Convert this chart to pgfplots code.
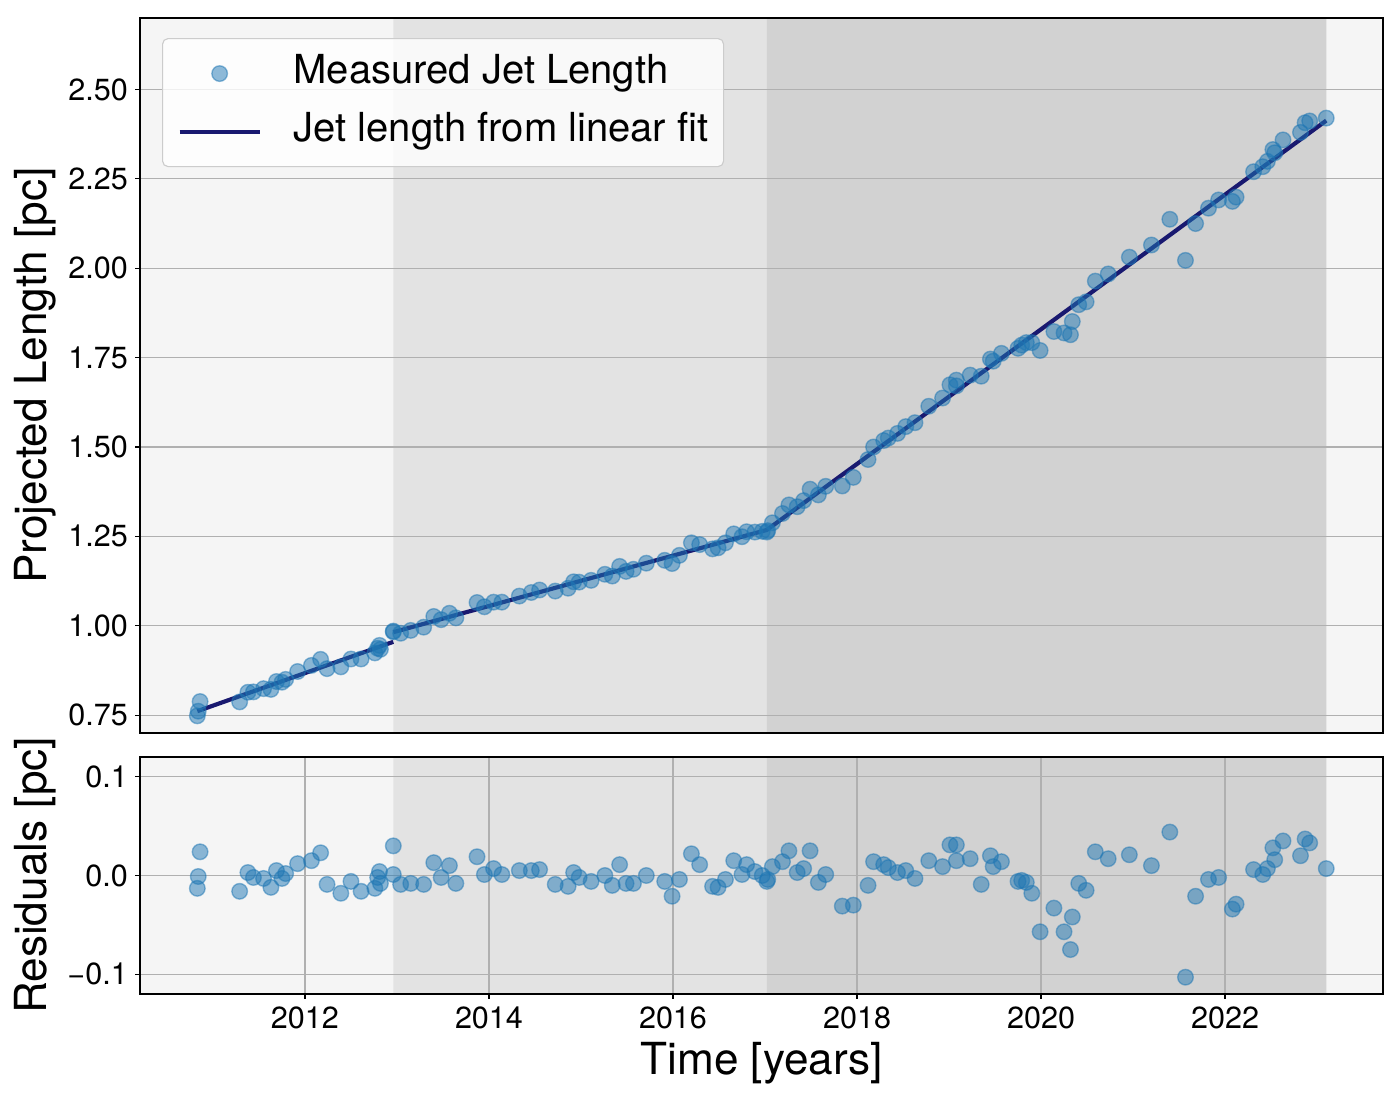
\documentclass[border=0pt]{standalone}
\usepackage{fontspec}
\setmainfont{TeX Gyre Heros}
\usepackage{pgfplots}
\usepackage{pgfplotstable}
\pgfplotsset{compat=1.18}
\definecolor{ptblue}{HTML}{1F77B4}
\definecolor{fitblue}{HTML}{191970}
\definecolor{bgA}{HTML}{F5F5F5}
\definecolor{bgB}{HTML}{E3E3E3}
\definecolor{bgC}{HTML}{D2D2D2}
\definecolor{gridc}{HTML}{B0B0B0}
\definecolor{legc}{HTML}{CCCCCC}

\pgfplotstableread{
x len res
2010.83 0.748 -0.013
2010.84 0.761 -0.001
2010.86 0.788 0.024
2011.29 0.787 -0.016
2011.38 0.814 0.003
2011.44 0.815 -0.002
2011.55 0.824 -0.003
2011.63 0.822 -0.012
2011.69 0.844 0.005
2011.75 0.842 -0.003
2011.79 0.850 0.002
2011.92 0.872 0.012
2012.07 0.889 0.015
2012.17 0.906 0.023
2012.24 0.880 -0.009
2012.39 0.885 -0.018
2012.50 0.907 -0.006
2012.61 0.907 -0.016
2012.76 0.924 -0.013
2012.79 0.937 -0.002
2012.81 0.945 0.004
2012.82 0.934 -0.008
2012.96 0.985 0.030
2012.96 0.983 0.001
2013.04 0.979 -0.009
2013.15 0.987 -0.008
2013.29 0.996 -0.009
2013.40 1.026 0.013
2013.48 1.017 -0.002
2013.57 1.035 0.010
2013.64 1.022 -0.008
2013.87 1.065 0.019
2013.95 1.053 0.001
2014.05 1.066 0.007
2014.14 1.066 0.001
2014.33 1.083 0.005
2014.46 1.093 0.005
2014.55 1.100 0.006
2014.72 1.097 -0.009
2014.86 1.105 -0.011
2014.92 1.123 0.003
2014.98 1.122 -0.002
2015.11 1.127 -0.006
2015.26 1.144 0.000
2015.34 1.139 -0.010
2015.42 1.166 0.011
2015.49 1.152 -0.008
2015.57 1.158 -0.008
2015.71 1.175 0.000
2015.91 1.183 -0.006
2015.99 1.174 -0.021
2016.07 1.197 -0.004
2016.20 1.232 0.022
2016.29 1.227 0.011
2016.43 1.215 -0.011
2016.49 1.218 -0.012
2016.57 1.232 -0.004
2016.66 1.257 0.015
2016.75 1.249 0.001
2016.80 1.263 0.011
2016.89 1.262 0.004
2016.97 1.264 0.000
2017.02 1.262 -0.006
2017.03 1.266 -0.004
2017.08 1.288 0.009
2017.19 1.314 0.014
2017.26 1.338 0.025
2017.35 1.333 0.003
2017.42 1.350 0.007
2017.49 1.382 0.025
2017.58 1.366 -0.007
2017.66 1.390 0.001
2017.84 1.391 -0.031
2017.96 1.415 -0.030
2018.12 1.465 -0.010
2018.18 1.500 0.014
2018.29 1.518 0.011
2018.34 1.525 0.008
2018.44 1.538 0.003
2018.53 1.557 0.005
2018.63 1.568 -0.003
2018.78 1.614 0.015
2018.93 1.637 0.009
2019.01 1.674 0.031
2019.08 1.687 0.031
2019.08 1.671 0.015
2019.23 1.701 0.017
2019.35 1.698 -0.009
2019.45 1.746 0.020
2019.48 1.740 0.009
2019.57 1.762 0.014
2019.75 1.776 -0.006
2019.79 1.785 -0.005
2019.84 1.792 -0.007
2019.90 1.792 -0.018
2019.99 1.770 -0.057
2020.14 1.823 -0.033
2020.25 1.819 -0.057
2020.32 1.814 -0.075
2020.34 1.851 -0.042
2020.41 1.898 -0.008
2020.49 1.906 -0.015
2020.59 1.964 0.024
2020.73 1.984 0.017
2020.96 2.031 0.021
2021.20 2.065 0.010
2021.40 2.137 0.044
2021.57 2.022 -0.103
2021.68 2.125 -0.021
2021.82 2.168 -0.004
2021.93 2.191 -0.002
2022.08 2.187 -0.034
2022.12 2.199 -0.029
2022.31 2.270 0.006
2022.41 2.284 0.001
2022.46 2.299 0.007
2022.52 2.332 0.028
2022.54 2.323 0.016
2022.63 2.359 0.035
2022.82 2.380 0.020
2022.87 2.407 0.037
2022.92 2.412 0.033
2023.10 2.420 0.007
}\jetdata

\pgfplotsset{
  jetaxis/.style={
    set layers,
    scale only axis,
    width=894.96pt,
    xmin=2010.207, xmax=2023.717,
    axis line style={black, line width=0.8pt},
    tick style={black, line width=0.8pt},
    major tick length=3.5pt,
    tick align=outside,
    xtick pos=bottom, ytick pos=left,
    grid style={gridc, line width=0.8pt},
    yticklabel style={font=\fontsize{22}{26.4}\selectfont, anchor=east, inner sep=0pt, xshift=-5.1pt},
    xticklabel style={font=\fontsize{22}{26.4}\selectfont, anchor=north, inner sep=0pt, yshift=-5.5pt},
    every axis y label/.style={at={(axis description cs:-0.0845,0.5)}, rotate=90, anchor=center, font=\fontsize{31.8}{38}\selectfont},
    every axis x label/.style={at={(axis description cs:0.5,-0.29)}, anchor=center, font=\fontsize{31.8}{38}\selectfont},
  },
  ptstyle/.style={only marks, mark=*, mark size=5.6pt,
    mark options={draw=ptblue, fill=ptblue, fill opacity=0.5, draw opacity=0.5, line width=1pt},
    legend image code/.code={\draw[mark repeat=2,mark phase=2,##1] plot coordinates {(0pt,0pt)(28.8pt,0pt)(57.6pt,0pt)};}},
  fitstyle/.style={fitblue, line width=3pt,
    legend image code/.code={\draw[##1] (0pt,0pt) -- (57.6pt,0pt);}},
  spanstyle/.style={draw=none, on layer=axis background, forget plot},
}

\begin{document}
\begin{tikzpicture}
% ---------- top panel ----------
\begin{axis}[jetaxis,
  at={(0pt,187.92pt)}, anchor=south west,
  height=514.8pt,
  ymin=0.70, ymax=2.70,
  xtick=\empty,
  ytick={0.75,1.00,1.25,1.50,1.75,2.00,2.25,2.50},
  yticklabels={0.75,1.00,1.25,1.50,1.75,2.00,2.25,2.50},
  ymajorgrids,
  ylabel={Projected Length [pc]},
  legend style={at={(axis description cs:0.0177,0.972)}, anchor=north west,
    fill=white, fill opacity=0.8, text opacity=1, draw=legc, line width=0.8pt,
    rounded corners=4pt, inner xsep=10.8pt, inner ysep=10.8pt,
    font=\fontsize{28.8}{34.5}\selectfont,
    column sep=23pt, row sep=13pt,
    nodes={inner sep=0pt, text height=21.6pt, text depth=7.2pt, anchor=west}},
  legend cell align=left,
]
\addplot[spanstyle, fill=bgA] coordinates {(2010.207,0.70) (2023.717,0.70) (2023.717,2.70) (2010.207,2.70) (2010.207,0.70)};
\addplot[spanstyle, fill=bgB] coordinates {(2012.96,0.70) (2017.02,0.70) (2017.02,2.70) (2012.96,2.70) (2012.96,0.70)};
\addplot[spanstyle, fill=bgC] coordinates {(2017.02,0.70) (2023.10,0.70) (2023.10,2.70) (2017.02,2.70) (2017.02,0.70)};

\addplot[ptstyle] table[x=x, y=len] {\jetdata};
\addlegendentry{Measured Jet Length}

\addplot[fitstyle] coordinates {(2010.83,0.761) (2012.96,0.955)};
\addlegendentry{Jet length from linear fit}
\addplot[fitstyle, forget plot]
  coordinates {(2012.96,0.982) (2017.02,1.268) (2023.10,2.413)};
\end{axis}

% ---------- residual panel ----------
\begin{axis}[jetaxis,
  at={(0pt,0pt)}, anchor=south west,
  height=170.64pt,
  ymin=-0.12, ymax=0.12,
  xtick={2012,2014,2016,2018,2020,2022},
  xticklabels={2012,2014,2016,2018,2020,2022},
  ytick={-0.1,0,0.1},
  yticklabels={−0.1,0.0,0.1},
  xmajorgrids, ymajorgrids,
  ylabel={Residuals [pc]},
  xlabel={Time [years]},
]
\addplot[spanstyle, fill=bgA] coordinates {(2010.207,-0.12) (2023.717,-0.12) (2023.717,0.12) (2010.207,0.12) (2010.207,-0.12)};
\addplot[spanstyle, fill=bgB] coordinates {(2012.96,-0.12) (2017.02,-0.12) (2017.02,0.12) (2012.96,0.12) (2012.96,-0.12)};
\addplot[spanstyle, fill=bgC] coordinates {(2017.02,-0.12) (2023.10,-0.12) (2023.10,0.12) (2017.02,0.12) (2017.02,-0.12)};

\addplot[ptstyle] table[x=x, y=res] {\jetdata};
\end{axis}
\path (-100.8pt,-76.32pt) rectangle (907.2pt,715.68pt);
\end{tikzpicture}
\end{document}
